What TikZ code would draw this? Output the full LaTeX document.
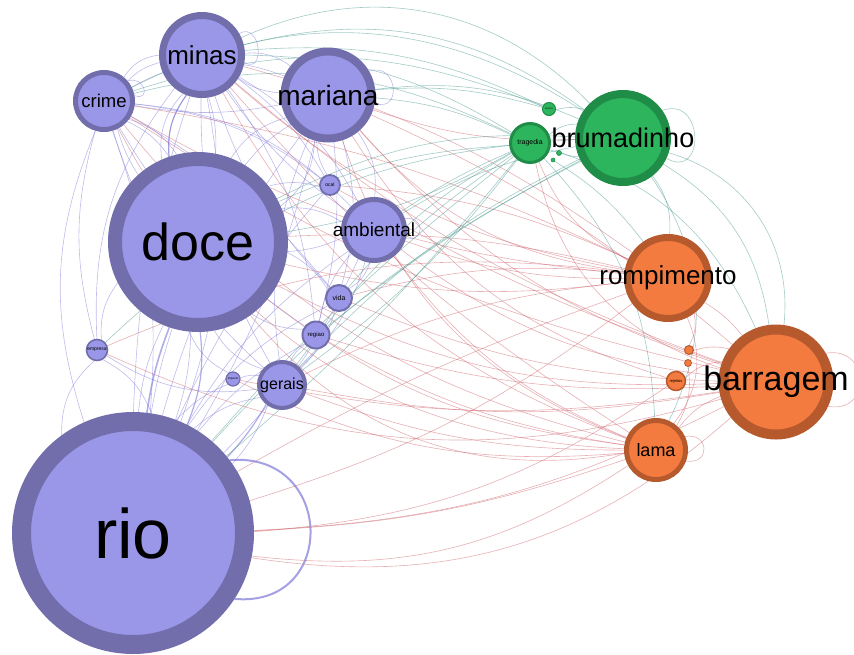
\documentclass[tikz,border=0pt]{standalone}
\usepackage{fontspec}
\setmainfont{Liberation Sans}
\usetikzlibrary{backgrounds}
\definecolor{pfill}{RGB}{155,151,232}
\definecolor{pline}{RGB}{114,110,172}
\definecolor{gfill}{RGB}{45,181,93}
\definecolor{gline}{RGB}{31,140,71}
\definecolor{ofill}{RGB}{243,123,63}
\definecolor{oline}{RGB}{182,90,46}
\definecolor{pedgec}{RGB}{125,120,215}
\definecolor{redgec}{RGB}{205,95,105}
\definecolor{gedgec}{RGB}{70,150,140}
\newcommand{\fsize}[1]{\fontsize{#1}{#1}\selectfont}
\tikzset{%
	word/.style={circle,inner sep=0pt},
	pword/.style={word,fill=pfill,draw=pline},
	gword/.style={word,fill=gfill,draw=gline},
	oword/.style={word,fill=ofill,draw=oline}
}
\tikzset{%
	pedge/.style={draw=pedgec,opacity=0.5,line width=0.6pt},
	redge/.style={draw=redgec,opacity=0.5,line width=0.6pt},
	gedge/.style={draw=gedgec,opacity=0.5,line width=0.6pt}
}

\begin{document}
\begin{tikzpicture}[x=1pt,y=-1pt]
		\useasboundingbox (0,0) rectangle (854,654);

		%Purple words
		\node [pword,minimum size=223pt,line width=19pt,label={[font=\fsize{70}]center:rio}] (rio) at (133,533) {};
		\node [pword,minimum size=166pt,line width=14pt,label={[font=\fsize{52}]center:doce}] (doce) at (198,242) {};
		\node [pword,minimum size=79pt,line width=7pt,label={[font=\fsize{26}]center:minas}] (minas) at (202,55) {};
		\node [pword,minimum size=57pt,line width=5pt,label={[font=\fsize{18.5}]center:crime}] (crime) at (104,101) {};
		\node [pword,minimum size=87pt,line width=8pt,label={[font=\fsize{28}]center:mariana}] (mariana) at (328,95) {};
		\node [pword,minimum size=61pt,line width=5pt,label={[font=\fsize{19}]center:ambiental}] (ambiental) at (374,230) {};
		\node [pword,minimum size=20pt,line width=1.8pt,label={[font=\fsize{5}]center:ocal}] (ocal) at (330,185) {};
		\node [pword,minimum size=26pt,line width=2pt,label={[font=\fsize{7}]center:vida}] (vida) at (339,298) {};
		\node [pword,minimum size=27pt,line width=2pt,label={[font=\fsize{6}]center:regiao}] (regiao) at (316,335) {};
		\node [pword,minimum size=21pt,line width=1.6pt,label={[font=\fsize{5}]center:empresa}] (empresa) at (97,350) {};
		\node [pword,minimum size=14pt,line width=1.2pt,label={[font=\fsize{3}]center:impacto}] (impacto) at (233,379) {};
		\node [pword,minimum size=46pt,line width=4pt,label={[font=\fsize{16}]center:gerais}] (gerais) at (282,385) {};

		%Green words
		\node [gword,minimum size=88pt,line width=8pt] (brumadinho) at (623,138) {};
		\node [gword,minimum size=39pt,line width=3pt,label={[font=\fsize{7}]center:tragedia}] (tragedia) at (530,143) {};
		\node [gword,minimum size=13pt,line width=1pt,label={[font=\fsize{2.5}]center:mortos}] (mortos) at (549,109) {};
		\node [gword,minimum size=5pt,line width=0.6pt] (gdot1) at (559,153) {};
		\node [gword,minimum size=4pt,line width=0.5pt] (gdot2) at (553,160) {};
		\node [font=\fsize{27}] (brumadinho-lbl) at (brumadinho) {brumadinho};

		%Orange words
		\node [oword,minimum size=81pt,line width=7pt,label={[font=\fsize{26}]center:rompimento}] (rompimento) at (668,278) {};
		\node [oword,minimum size=105pt,line width=10pt,label={[font=\fsize{34}]center:barragem}] (barragem) at (776,382) {};
		\node [oword,minimum size=59pt,line width=5pt,label={[font=\fsize{18}]center:lama}] (lama) at (656,450) {};
		\node [oword,minimum size=19pt,line width=1.5pt,label={[font=\fsize{4}]center:rejeitos}] (rejeitos) at (676,381) {};
		\node [oword,minimum size=9pt,line width=1pt] (odot1) at (689,350) {};
		\node [oword,minimum size=7pt,line width=0.8pt] (odot2) at (688,363) {};

		\begin{scope}[on background layer]
		%Purple links
		\foreach \a/\b/\bd in {rio/doce/10,rio/doce/-8,rio/doce/4,rio/minas/8,rio/crime/-12,rio/mariana/10,rio/ambiental/12,
			rio/gerais/15,rio/gerais/-10,rio/regiao/10,rio/vida/14,rio/empresa/-20,rio/impacto/12,rio/ocal/8,
			doce/minas/20,doce/crime/-20,doce/mariana/20,doce/ambiental/18,doce/gerais/-20,doce/vida/15,doce/regiao/-15,
			doce/empresa/-20,doce/ocal/15,doce/impacto/-20,minas/crime/-25,minas/mariana/20,minas/ambiental/15,
			minas/gerais/-15,minas/vida/-12,minas/regiao/15,minas/ocal/12,minas/empresa/-20,crime/mariana/25,
			crime/ambiental/20,crime/gerais/-15,crime/empresa/-15,crime/regiao/-12,mariana/ambiental/20,
			mariana/gerais/-15,mariana/ocal/-15,mariana/vida/15,ambiental/gerais/15,ambiental/regiao/-15,
			ambiental/vida/20,gerais/regiao/15,gerais/vida/-15,empresa/gerais/-20,impacto/gerais/15,empresa/rio/-25,
			crime/doce/15,crime/doce/-8,minas/doce/10,minas/doce/-25,mariana/doce/-10,mariana/doce/25,
			crime/minas/15,crime/mariana/-10,minas/mariana/-15,crime/vida/10,crime/ocal/15,minas/ambiental/-10,
			mariana/regiao/10,doce/ambiental/-10,rio/minas/-15,rio/crime/20,rio/mariana/-8,rio/ambiental/-10}
			\draw [pedge] (\a) to[bend left=\bd] (\b);
		\draw [pedge,line width=1.6pt,opacity=0.6] (rio) to[bend left=6] (doce);
		\draw [pedge,line width=1.2pt,opacity=0.6] (rio) to[bend left=-6] (gerais);
		\draw [pedge,line width=1.2pt,opacity=0.6] (rio) to[bend left=-14] (doce);
		\draw [pedge,line width=1.2pt,opacity=0.6] (doce) to[bend left=20] (minas);

		%Red links
		\foreach \a/\b/\bd in {rio/barragem/-25,rio/barragem/-12,rio/lama/-20,rio/rompimento/-10,rio/rejeitos/-15,rio/lama/-8,
			doce/barragem/-15,doce/rompimento/-10,doce/lama/-15,doce/rompimento/8,minas/barragem/-10,
			minas/rompimento/-15,minas/lama/-20,crime/barragem/-10,crime/rompimento/-12,crime/lama/-18,
			mariana/barragem/-15,mariana/rompimento/-20,mariana/lama/-25,mariana/rejeitos/-20,
			ambiental/barragem/-15,ambiental/rompimento/-10,ambiental/lama/-15,gerais/barragem/-10,
			gerais/rompimento/10,gerais/lama/-10,vida/barragem/-10,vida/rompimento/10,regiao/barragem/-10,
			regiao/lama/-10,empresa/barragem/-20,empresa/rompimento/15,ocal/rompimento/10,ocal/barragem/-5,
			impacto/lama/-15,impacto/barragem/-10,tragedia/rompimento/-20,tragedia/barragem/-30,
			rompimento/barragem/10,lama/barragem/15,rompimento/lama/30,rejeitos/barragem/20,odot1/barragem/15,
			odot2/lama/20,rompimento/odot1/20,minas/rompimento/10,crime/rompimento/8,mariana/barragem/8,
			doce/lama/-30,rio/rompimento/5,minas/lama/-8,mariana/brumadinho/-10,crime/lama/-30}
			\draw [redge] (\a) to[bend left=\bd] (\b);

		%Green links
		\foreach \a/\b/\bd in {crime/brumadinho/30,minas/brumadinho/25,minas/tragedia/15,crime/tragedia/20,
			mariana/brumadinho/15,mariana/tragedia/10,doce/brumadinho/15,doce/tragedia/10,rio/brumadinho/10,
			rio/tragedia/5,ambiental/brumadinho/10,ambiental/tragedia/5,gerais/brumadinho/10,gerais/tragedia/10,
			vida/tragedia/10,regiao/brumadinho/5,empresa/brumadinho/20,mariana/mortos/10,minas/mortos/15,
			crime/mortos/20,tragedia/barragem/25,brumadinho/barragem/25,brumadinho/barragem/40,
			brumadinho/rompimento/20,brumadinho/lama/30,tragedia/lama/20,tragedia/brumadinho/20,
			mortos/brumadinho/15,gdot1/brumadinho/-10,gdot2/rompimento/10,minas/brumadinho/35,
			doce/tragedia/-10,rio/tragedia/-5,gerais/tragedia/-8}
			\draw [gedge] (\a) to[bend left=\bd] (\b);

		%Self loops
		\draw [pedge,line width=2pt,opacity=0.7] (rio.37) to[out=5,in=-5,distance=105pt] (rio.-33);
		\draw [pedge] (minas.30) to[out=30,in=-30,distance=25pt] (minas.-10);
		\draw [pedge] (crime.40) to[out=20,in=-20,distance=18pt] (crime.10);
		\draw [pedge] (mariana.30) to[out=20,in=-20,distance=30pt] (mariana.-10);
		\draw [pedge] (ambiental.20) to[out=10,in=-10,distance=20pt] (ambiental.-15);
		\draw [gedge] (brumadinho.35) to[out=20,in=-30,distance=45pt] (brumadinho.-25);
		\draw [redge] (barragem.30) to[out=10,in=-10,distance=45pt] (barragem.-25);
		\draw [redge] (lama.25) to[out=10,in=-10,distance=25pt] (lama.-20);
		\end{scope}

	\end{tikzpicture}
\end{document}
